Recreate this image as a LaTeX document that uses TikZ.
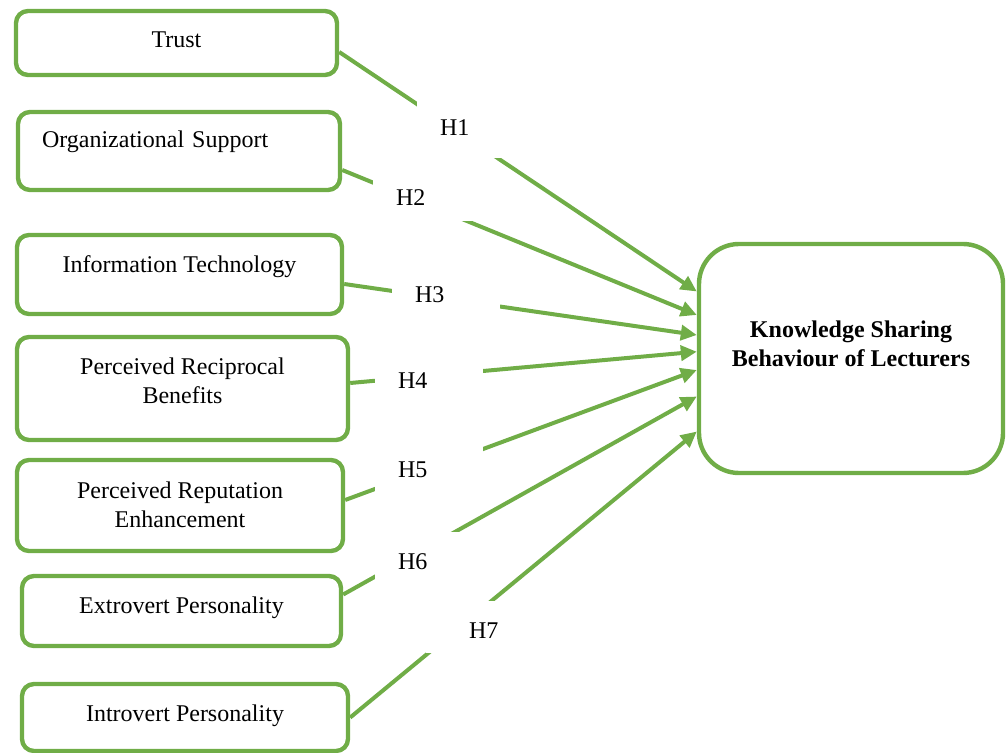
\documentclass[tikz,border=0pt]{standalone}
\usepackage{fontspec}
\setmainfont{Liberation Serif}
\usepackage{tikz}
\usetikzlibrary{arrows.meta}
\definecolor{kgreen}{RGB}{112,173,71}
\tikzset{
    factor/.style={draw=kgreen, line width=2.2pt, rounded corners=6pt,
        inner ysep=0pt, align=center},
    outcome/.style={factor, rounded corners=20pt,
        font=\fontsize{12}{14.5}\selectfont\bfseries},
    link/.style={kgreen, line width=2pt, -{Triangle[length=8pt,width=7.5pt]}},
    hyp/.style={fill=white, outer sep=0pt, inner ysep=0pt, inner xsep=11.5pt,
        text width=31pt, align=left, text height=18.5pt, text depth=7.5pt,
        anchor=base west}
}

\begin{document}
\begin{tikzpicture}[x=0.5pt, y=-0.5pt, font=\fontsize{12}{14.5}\selectfont]
    \useasboundingbox (0,0) rectangle (1006,753);

    % factors
    \node[factor, minimum width=160.5pt, text height=18.5pt, text depth=13.5pt]
        (trust) at (176.5,43) {Trust};
    \node[factor, text width=137pt, inner xsep=12pt, align=left,
        text height=18pt, text depth=21pt]
        (org) at (179,151) {Organizational Support};
    \node[factor, minimum width=162.5pt, text height=19pt, text depth=20.5pt]
        (it) at (179.5,274.5) {Information Technology};
    \node[factor, minimum width=165.5pt, text height=33.5pt, text depth=18pt]
        (prb) at (182.5,388.5) {Perceived Reciprocal\\Benefits};
    \node[factor, minimum width=163pt, text height=33.5pt, text depth=12pt]
        (pre) at (180,505.5) {Perceived Reputation\\Enhancement};
    \node[factor, minimum width=159.5pt, text height=18.5pt, text depth=16.5pt]
        (ext) at (181.5,611) {Extrovert Personality};
    \node[factor, minimum width=163pt, text height=18.5pt, text depth=15pt]
        (int) at (185,717.5) {Introvert Personality};

    % outcome
    \node[outcome, minimum width=152pt, text height=61.5pt, text depth=53pt]
        (ksb) at (851,358.5) {Knowledge Sharing\\Behaviour of Lecturers};

    % hypotheses
    \draw[link] ([yshift=-4.5pt]trust.east) -- ([yshift=33.5pt]ksb.west);
    \draw[link] ([yshift=-9.5pt]org.east) -- ([yshift=21.75pt]ksb.west);
    \draw[link] ([yshift=-4.75pt]it.east) -- ([yshift=11.75pt]ksb.west);
    \draw[link] ([yshift=2.75pt]prb.east) -- ([yshift=3.4pt]ksb.west);
    \draw[link] ([yshift=2.75pt]pre.east) -- ([yshift=-5.75pt]ksb.west);
    \draw[link] ([yshift=8.25pt]ext.east) -- ([yshift=-19pt]ksb.west);
    \draw[link] (int.east) -- ([yshift=-36.5pt]ksb.west);

    \node[hyp, text depth=11pt] (h1) at (417,136) {H1};
    \node[hyp] (h2) at (373,206) {H2};
    \node[hyp] (h3) at (392,303) {H3};
    \node[hyp] (h4) at (375,389) {H4};
    \node[hyp] (h5) at (375,477) {H5};
    \node[hyp] (h6) at (375,569) {H6};
    \node[hyp] (h7) at (426,638) {\hspace*{10pt}H7};
\end{tikzpicture}
\end{document}
